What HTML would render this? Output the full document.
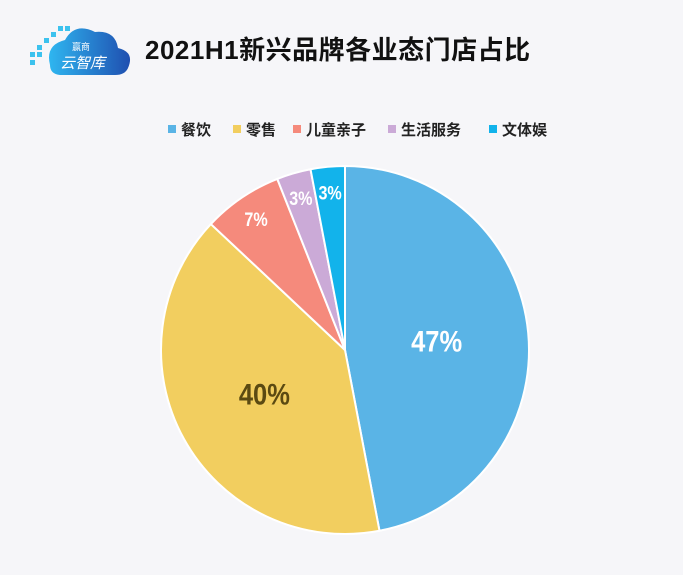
<!DOCTYPE html>
<html><head><meta charset="utf-8">
<style>
body{margin:0;width:683px;height:575px;background:#f6f6f9;overflow:hidden;font-family:"Liberation Sans","Noto Sans CJK SC",sans-serif;}
#title{position:absolute;left:145px;top:30px;font-size:26px;font-weight:bold;color:#111;letter-spacing:0.5px;}
.leg{position:absolute;top:119px;font-size:15px;font-weight:bold;color:#222;white-space:nowrap}
.leg i{display:inline-block;width:8px;height:8px;margin-right:5px;vertical-align:2px}
</style></head><body>
<svg width="130" height="80" style="position:absolute;left:20px;top:10px">
<defs><linearGradient id="lg" x1="0" x2="1"><stop offset="0" stop-color="#2fb6f0"/><stop offset="1" stop-color="#1f4fb0"/></linearGradient></defs>
<path d="M30 55 Q25 35 45 30 Q55 12 75 22 Q95 20 98 38 Q115 42 108 58 Q105 65 95 65 L40 65 Q30 64 30 55Z" fill="url(#lg)"/>
<g fill="#3cc2ee"><rect x="10" y="42" width="5" height="5"/><rect x="17" y="42" width="5" height="5"/><rect x="10" y="50" width="5" height="5"/><rect x="17" y="35" width="5" height="5"/><rect x="24" y="28" width="5" height="5"/><rect x="31" y="22" width="5" height="5"/><rect x="38" y="16" width="5" height="5"/><rect x="45" y="16" width="5" height="5"/></g>
<text x="52" y="40" font-size="9" fill="#fff" font-family="Noto Sans CJK SC,sans-serif">赢商</text>
<text x="40" y="58" font-size="15" fill="#fff" font-style="italic" font-family="Noto Sans CJK SC,sans-serif">云智库</text>
</svg>
<div id="title">2021H1新兴品牌各业态门店占比</div>
<div id="legend"></div>
<svg id="pie" width="683" height="575" style="position:absolute;left:0;top:0"></svg>
<script>
const categories=["餐饮","零售","儿童亲子","生活服务","文体娱"];
const values=[47,40,7,3,3];
const colors=["#5ab4e6","#f2ce5f","#f58a7c","#cbaad7","#12b3eb"];
const labelColors=["#fff","#5b4a12","#fff","#fff","#fff"];
const legendX=[168,233,293,388,489];
const cx=345,cy=350,r=184;
const ns="http://www.w3.org/2000/svg";
const svg=document.getElementById('pie');
const total=values.reduce((a,b)=>a+b,0);
let a0=0;
values.forEach((v,i)=>{
  const a1=a0+v/total*Math.PI*2;
  const p=a=>[cx+r*Math.sin(a),cy-r*Math.cos(a)];
  const [x0,y0]=p(a0),[x1,y1]=p(a1);
  const path=document.createElementNS(ns,'path');
  path.setAttribute('d',`M${cx},${cy}L${x0},${y0}A${r},${r} 0 ${a1-a0>Math.PI?1:0} 1 ${x1},${y1}Z`);
  path.setAttribute('fill',colors[i]);path.setAttribute('stroke','#fff');path.setAttribute('stroke-width','2');
  
  
  svg.appendChild(path);
  const am=(a0+a1)/2, lr=v>10?r*0.5:r*0.86;
  const t=document.createElementNS(ns,'text');
  const tx=cx+lr*Math.sin(am), ty=cy-lr*Math.cos(am)+(v>10?10:7);
  t.setAttribute('text-anchor','middle');t.setAttribute('fill',labelColors[i]);
  t.setAttribute('font-size',v>10?30:19);t.setAttribute('font-weight','bold');
  t.setAttribute('font-family','Liberation Sans Narrow,Liberation Sans,sans-serif');
  t.setAttribute('transform',`translate(${tx},${ty}) scale(0.85,1)`);
  t.textContent=v+'%';
  
  
  svg.appendChild(t);
  a0=a1;
});
const lg=document.getElementById('legend');
categories.forEach((c,i)=>{
  const d=document.createElement('div');d.className='leg';d.style.left=legendX[i]+'px';
  d.innerHTML=`<i style="background:${colors[i]}"></i>${c}`;
  
  
  lg.appendChild(d);
});
</script>
</body></html>
